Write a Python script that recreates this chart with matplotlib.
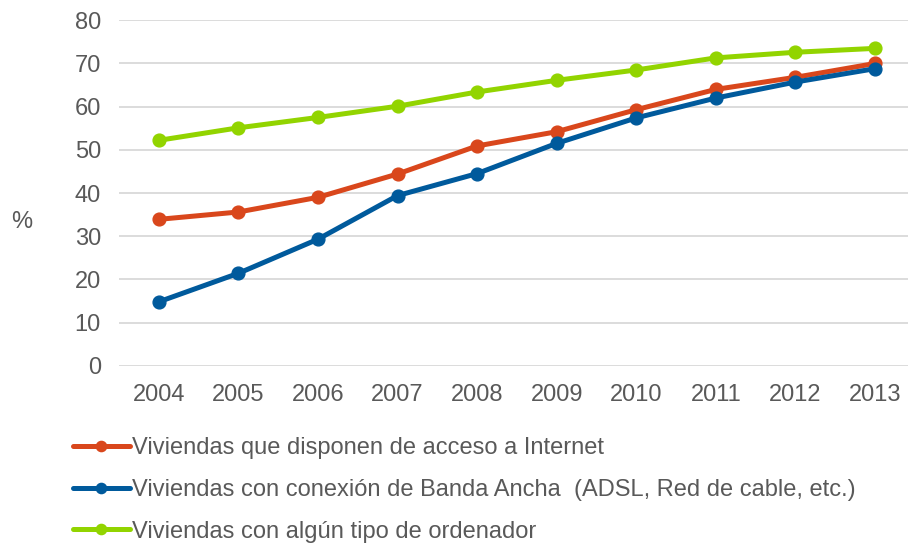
import matplotlib
matplotlib.use("Agg")
import matplotlib.pyplot as plt

years = ["2004", "2005", "2006", "2007", "2008", "2009", "2010", "2011", "2012", "2013"]
internet = [33.9, 35.6, 39.0, 44.4, 50.9, 54.2, 59.3, 64.0, 66.8, 70.0]
banda_ancha = [14.8, 21.4, 29.3, 39.4, 44.5, 51.5, 57.4, 62.0, 65.7, 68.8]
ordenador = [52.2, 55.1, 57.5, 60.1, 63.4, 66.1, 68.5, 71.3, 72.6, 73.5]

labels = [
    "Viviendas que disponen de acceso a Internet",
    "Viviendas con conexión de Banda Ancha  (ADSL, Red de cable, etc.)",
    "Viviendas con algún tipo de ordenador",
]
colors = ["#D9471C", "#005A9C", "#92D400"]

plt.rcParams["font.family"] = ["Liberation Sans", "DejaVu Sans"]
text_color = "#595959"

fig = plt.figure(figsize=(9.08, 5.46), dpi=100)
ax = fig.add_axes([119 / 908, 0.3302, 1 - 119 / 908, 0.6326])

x = range(len(years))
handles = []
# plot order: green behind, then red, blue on top
for series, color in [(ordenador, colors[2]), (internet, colors[0]), (banda_ancha, colors[1])]:
    (ln,) = ax.plot(x, series, color=color, lw=3.6, marker="o", ms=9.2,
                    solid_capstyle="round", zorder=3)
    handles.append(ln)
handles = [handles[1], handles[2], handles[0]]

ax.set_ylim(0, 80)
ax.set_xlim(-0.5, 9.415)
ax.set_yticks(range(0, 81, 10))
ax.set_xticks(list(x))
ax.set_xticklabels(years)
ax.yaxis.grid(True, color="#D9D9D9", lw=1.3)
ax.set_axisbelow(True)
for s in ax.spines.values():
    s.set_visible(False)
ax.tick_params(length=0, labelsize=17, colors=text_color)
ax.tick_params(axis="y", pad=13)
ax.tick_params(axis="x", pad=13)

fig.text(22 / 908, 1 - 222 / 546, "%", fontsize=17, color=text_color,
         ha="center", va="center")

fig.legend(handles, labels, loc="upper left", bbox_to_anchor=(73 / 908, 1 - 437 / 546),
           frameon=False, fontsize=17, labelcolor=text_color, borderpad=0,
           borderaxespad=0, handlelength=2.4, handletextpad=0.12, labelspacing=0.84,
           markerscale=0.8)

fig.savefig("out.png", dpi=100)
